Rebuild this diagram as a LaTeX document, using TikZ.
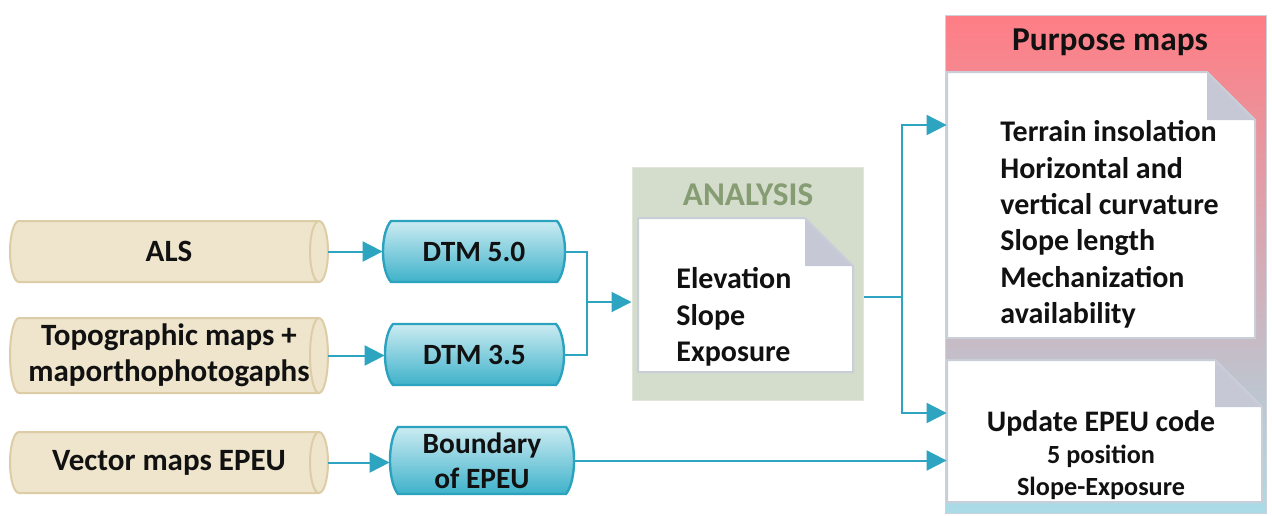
\documentclass[tikz,border=0pt]{standalone}
\usepackage{fontspec}
\setmainfont{Carlito}
\usetikzlibrary{arrows.meta}
\definecolor{tanE}{HTML}{DDCDA6}
\definecolor{tanA}{HTML}{EFE5CD}
\definecolor{tanB}{HTML}{FCF9F2}
\definecolor{tealA}{HTML}{CBEBF2}
\definecolor{tealB}{HTML}{3FB2CA}
\definecolor{tealE}{HTML}{2BA3BF}
\definecolor{cConn}{HTML}{2EA5C0}
\definecolor{anaF}{HTML}{D4DCCC}
\definecolor{anaT}{HTML}{869C72}
\definecolor{noteE}{HTML}{C9CED9}
\definecolor{foldF}{HTML}{C7C8D6}
\definecolor{pmA}{HTML}{FF7D85}
\definecolor{pmB}{HTML}{EDBDCB}
\definecolor{pmC}{HTML}{A9DCE7}
\definecolor{panelE}{HTML}{CDD2DA}
\definecolor{txt}{HTML}{111111}
\tikzset{
  conn/.style={draw=cConn, line width=1pt},
  arr/.style={conn, -{Triangle[length=10pt,width=10pt]}},
  pipetext/.style={font=\fontsize{15.5}{18}\selectfont\bfseries, text=txt, align=center, inner sep=0pt},
  boxtext/.style={font=\fontsize{14.7}{17.5}\selectfont\bfseries, text=txt, align=center, inner sep=0pt},
  notetext/.style={font=\fontsize{15}{18.2}\selectfont\bfseries, text=txt, align=left, inner sep=0pt},
  pipefill/.style={top color=tanA, middle color=tanB, bottom color=tanA, draw=tanE, line width=1pt},
  tealfill/.style={top color=tealA, bottom color=tealB, draw=tealE, line width=1.2pt},
}
\newcommand\tanpipe[6]{%
  \pgfmathsetmacro\tpA{#2+9}\pgfmathsetmacro\tpB{#4-9}\pgfmathsetmacro\tpH{(#5-#3)/4}%
  \shade[pipefill] (\tpA,#3) -- (\tpB,#3) arc[start angle=90,end angle=-90,x radius=4.5pt,y radius=\tpH pt]
     -- (\tpA,#5) arc[start angle=-90,end angle=-270,x radius=4.5pt,y radius=\tpH pt] -- cycle;
  \draw[tanE, line width=1pt] (\tpB,#3) arc[start angle=90,end angle=270,x radius=4.5pt,y radius=\tpH pt];
  \pgfmathsetmacro\tpW{(#4-#2)/2}\pgfmathsetmacro\tpV{(#5-#3)/2}%
  \node[pipetext, minimum width=\tpW pt, minimum height=\tpV pt] (#1) at ({(#2+#4)/2},{(#3+#5)/2}) {#6};
}
\newcommand\tealbox[6]{%
  \pgfmathsetmacro\tbL{#2-10.7}\pgfmathsetmacro\tbR{#4+10.7}%
  \pgfmathsetmacro\tbU{#3+0.2*(#5-#3)}\pgfmathsetmacro\tbD{#5-0.2*(#5-#3)}%
  \shade[tealfill] (#2,#3) -- (#4,#3) .. controls (\tbR,\tbU) and (\tbR,\tbD) .. (#4,#5)
     -- (#2,#5) .. controls (\tbL,\tbD) and (\tbL,\tbU) .. (#2,#3) -- cycle;
  \pgfmathsetmacro\tbW{(#4-#2+16)/2}\pgfmathsetmacro\tbH{(#5-#3)/2}%
  \node[boxtext, minimum width=\tbW pt, minimum height=\tbH pt] (#1) at ({(#2+#4)/2},{(#3+#5)/2}) {#6};
}
\newcommand\notebox[6]{%
  \pgfmathsetmacro\nbA{#4-#6}\pgfmathsetmacro\nbB{#3+#6}%
  \filldraw[fill=white, draw=noteE, line width=1pt] (#2,#3) -- (\nbA,#3) -- (#4,\nbB) -- (#4,#5) -- (#2,#5) -- cycle;
  \fill[foldF] (\nbA,#3) -- (\nbA,\nbB) -- (#4,\nbB) -- cycle;
  \draw[noteE, line width=1pt] (\nbA,#3) -- (#4,\nbB);
  \pgfmathsetmacro\nbW{(#4-#2)/2}\pgfmathsetmacro\nbH{(#5-#3)/2}%
  \node[inner sep=0pt, minimum width=\nbW pt, minimum height=\nbH pt] (#1) at ({(#2+#4)/2},{(#3+#5)/2}) {};
}
\begin{document}
\begin{tikzpicture}[x=0.5pt,y=-0.5pt]
\useasboundingbox (0,0) rectangle (1272,515);
\fill[white] (0,0) rectangle (1272,515);

% inputs
\tanpipe{als}{10}{221}{328}{282}{ALS}
\tanpipe{topo}{10}{318}{328}{393}{Topographic maps +\\maporthophotogaphs}
\tanpipe{vec}{10}{432}{328}{493}{Vector maps EPEU}

% DTMs
\tealbox{dtm5}{391}{221}{557}{282}{DTM 5.0}
\tealbox{dtm35}{393}{324}{556}{385}{DTM 3.5}
\tealbox{bnd}{398}{427}{566}{494}{Boundary\\of EPEU}

% analysis
\node[fill=anaF, draw=anaF!70!white, line width=0.5pt, inner sep=0pt, minimum width=115.5pt, minimum height=116.5pt] (ana) at (747.5,283.5) {};
\node[font=\fontsize{16.6}{18}\selectfont\bfseries, text=anaT, inner sep=0pt] (anat) at (748,195) {ANALYSIS};
\notebox{anote}{638}{218}{853}{372}{48}
\node[notetext, anchor=west] (anatx) at (676,317) {Elevation\\Slope\\Exposure};

% purpose maps panel
\shade[top color=pmA, middle color=pmB, bottom color=pmC, draw=panelE, line width=0.5pt] (945,15) rectangle (1266,513);
\node[font=\fontsize{16.7}{20}\selectfont\bfseries, text=txt, inner sep=0pt] (pmt) at (1110,42) {Purpose maps};
\notebox{n1}{947}{72}{1255}{338}{48}
\node[notetext, anchor=west] (n1t) at (1000,224.5) {Terrain insolation\\Horizontal and\\vertical curvature\\Slope length\\Mechanization\\availability};
\notebox{n2}{947}{360}{1262}{502}{47}
\node[font=\fontsize{14.9}{16}\selectfont\bfseries, text=txt, align=center, inner sep=0pt] (n2t) at (1101,455)
  {Update EPEU code\\\fontsize{13.1}{16}\selectfont 5 position\\\fontsize{13.1}{16}\selectfont Slope-Exposure};

% connectors
\draw[arr] (als.east) -- (als.east -| dtm5.west);
\draw[arr] (topo.east) -- (topo.east -| dtm35.west);
\draw[arr] (vec.east) -- (vec.east -| bnd.west);
\coordinate (m) at (587,302);
\draw[conn] (dtm5.east) -| (m);
\draw[conn] (dtm35.east) -| (m);
\draw[arr] (m) -- (m -| ana.west);
\coordinate (s) at (902,297);
\draw[conn] (s -| ana.east) -- (s);
\draw[arr] (s) |- ([yshift=40pt]n1.west);
\draw[arr] (s) |- ([yshift=9pt]n2.west);
\draw[arr] (bnd.east) -- (bnd.east -| n2.west);
\end{tikzpicture}
\end{document}
